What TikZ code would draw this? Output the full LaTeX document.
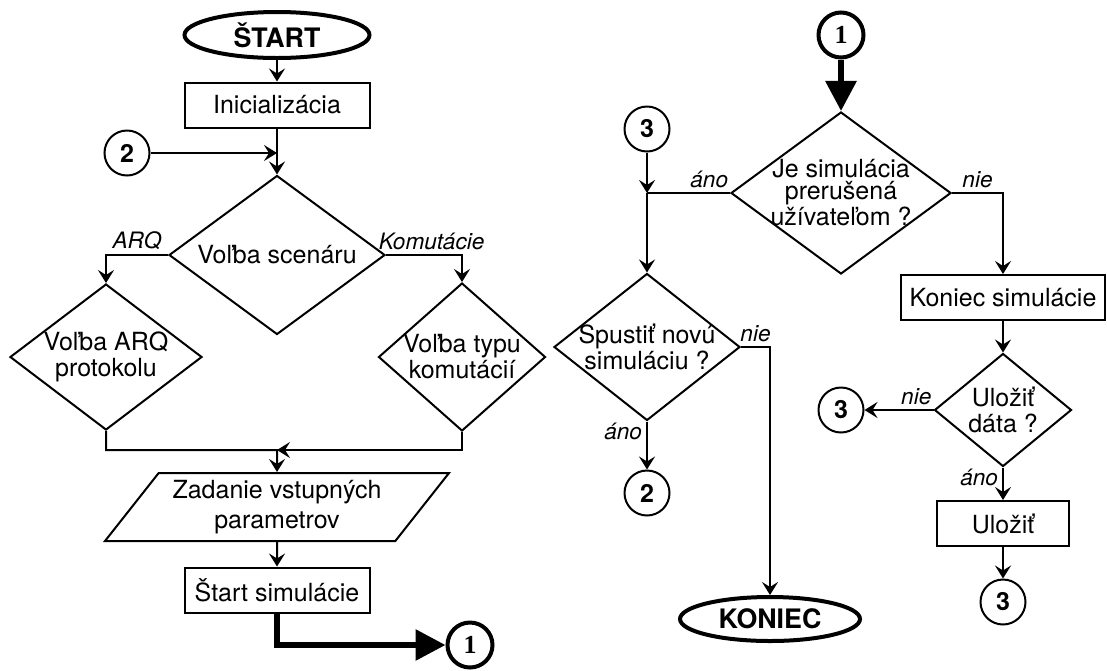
\documentclass[tikz,border=0pt]{standalone}
\usepackage{fontspec}
\setmainfont{TeX Gyre Heros}
\newfontfamily\onefont{Liberation Serif}
\usetikzlibrary{positioning,shapes.geometric,arrows.meta}

\tikzset{
    base/.style={draw, line width=1pt, inner sep=0pt, align=center, font=\fontsize{12.5}{13}\selectfont},
    terminal/.style={base, ellipse, line width=2pt, font=\bfseries\fontsize{13.4}{14}\selectfont},
    process/.style={base, rectangle, minimum height=22.5pt},
    decision/.style={base, diamond, inner sep=-3pt},
    inout/.style={base, trapezium, trapezium left angle=45, trapezium right angle=135, trapezium stretches body, font=\fontsize{12.5}{15}\selectfont},
    conn/.style={base, circle, minimum size=22.5pt, font=\bfseries\fontsize{12.5}{13}\selectfont},
    lbl/.style={font=\itshape\fontsize{11.3}{12}\selectfont, inner sep=2pt},
    bigflow/.style={line width=3pt, -{Triangle[length=15pt,width=15pt]}},
}

\begin{document}
\begin{tikzpicture}[on grid, >={Stealth[length=6.5pt,width=8pt,inset=2.5pt]}, line width=1pt]
        \useasboundingbox (0,0) rectangle (553.5pt,-335pt);
        % Nodes
        \node[terminal, minimum width=92.5pt, minimum height=23pt] (start) at (138.5pt,-17.5pt) {ŠTART};
        \node[process, minimum width=92.5pt, below=35pt of start] (init) {Inicializácia};
        \node[conn, below left=24pt and 75pt of init] (twoa) {2};
        \node[decision, minimum width=108pt, minimum height=79.5pt, aspect=1.36, below=75pt of init] (scen) {Voľba scenáru};
        \node[decision, minimum width=96pt, minimum height=73pt, aspect=1.31, below left=51pt and 85.5pt of scen] (arq) {Voľba ARQ\\protokolu};
        \node[decision, minimum width=83.5pt, minimum height=74pt, aspect=1.13, below right=51pt and 92.5pt of scen] (kom) {Voľba typu\\komutácií};
        \node[inout, minimum width=172pt, minimum height=34pt, below=126pt of scen] (param) {Zadanie vstupných\\parametrov};
        \node[process, minimum width=92.5pt, below=41.5pt of param] (simstart) {Štart simulácie};
        \node[conn, line width=2pt, below right=27.5pt and 96.5pt of simstart] (onea) {\onefont\fontsize{13}{13}\selectfont 1};

        \node[conn, line width=2pt, right=282pt of start] (oneb) {\onefont\fontsize{13}{13}\selectfont 1};
        \node[decision, minimum width=110pt, minimum height=81pt, aspect=1.36, below=79pt of oneb, font=\fontsize{12.5}{11}\selectfont] (interr) {Je simulácia\\prerušená\\užívateľom ?};
        \node[conn, above left=32pt and 97pt of interr] (threea) {3};
        \node[decision, minimum width=93pt, minimum height=73.5pt, aspect=1.27, below=109pt of threea] (spust) {Spustiť novú\\simuláciu ?};
        \node[conn, below=73pt of spust] (twob) {2};
        \node[terminal, minimum width=90pt, minimum height=22pt, below right=136pt and 61.5pt of spust] (koniec) {KONIEC};
        \node[process, minimum width=102pt, below right=52.25pt and 81pt of interr] (konsim) {Koniec simulácie};
        \node[decision, minimum width=68.5pt, minimum height=56.5pt, aspect=1.21, below=56.25pt of konsim] (uloz) {Uložiť\\dáta ?};
        \node[conn, left=81pt of uloz] (threeb) {3};
        \node[process, minimum width=66pt, below=56.75pt of uloz] (ulozit) {Uložiť};
        \node[conn, below=39.25pt of ulozit] (threec) {3};
        \coordinate[above=28.5pt of param] (merge);
        \coordinate (jn) at (threea |- interr.west);

        % Arrows
        \draw[->] (start) -- (init);
        \draw[->] (init) -- (scen);
        \draw[->] (twoa) -- (twoa -| init.south);
        \draw[->] (scen.west) -| node[lbl, above, pos=0.25] {ARQ} (arq.north);
        \draw[->] (scen.east) -| node[lbl, above, pos=0.3] {Komutácie} (kom.north);
        \draw[->] (arq.south) |- (merge) -- (param.north);
        \draw[->] (kom.south) |- (merge);
        \draw[->] (param) -- (simstart);
        \draw[bigflow] (simstart.south) |- (onea);
        \draw[bigflow] (oneb) -- (interr);
        \draw[->] (threea) -- (jn);
        \draw (interr.west) -- node[lbl, above, pos=0.25] {áno} (jn);
        \draw[->] (jn) -- (spust);
        \draw[->] (interr.east) -| node[lbl, above, pos=0.25] {nie} (konsim.north);
        \draw[->] (spust.east) -| node[lbl, above, pos=0.25] {nie} (koniec.north);
        \draw[->] (spust) -- node[lbl, left, pos=0.2] {áno} (twob);
        \draw[->] (konsim) -- (uloz);
        \draw[->] (uloz.west) -- node[lbl, above, pos=0.25] {nie} (threeb);
        \draw[->] (uloz) -- node[lbl, left, pos=0.3] {áno} (ulozit);
        \draw[->] (ulozit) -- (threec);
    \end{tikzpicture}
\end{document}
